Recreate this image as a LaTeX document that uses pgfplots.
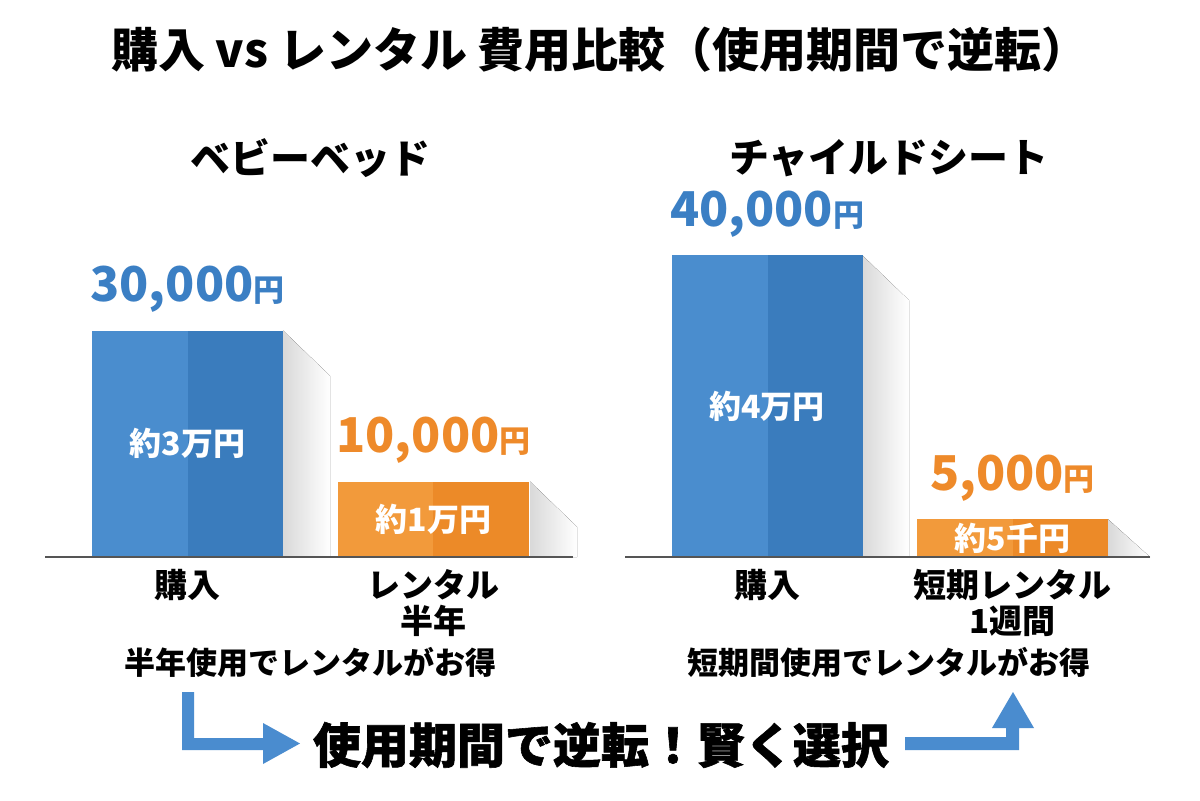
\documentclass[border=0pt]{standalone}
\usepackage{fontspec}
\setmainfont{Noto Sans CJK JP}
\usepackage{pgfplots}
\pgfplotsset{compat=1.18}
\definecolor{blueL}{HTML}{4A8DCE}
\definecolor{blueD}{HTML}{3A7CBD}
\definecolor{orgL}{HTML}{F29A3B}
\definecolor{orgD}{HTML}{EC8A28}
\definecolor{blueT}{HTML}{3B7FC4}
\definecolor{orgT}{HTML}{EE8A2A}
\definecolor{arrowB}{HTML}{4A8CCF}
\definecolor{baseG}{HTML}{555555}
\newcommand{\yen}{{\fontsize{15.5}{15.5}\selectfont 円}}
\begin{document}
\begin{tikzpicture}
\fill[white] (0,0) rectangle (600pt,400pt);
\useasboundingbox (0,0) rectangle (600pt,400pt);
\pgfplotsset{
  cmpaxis/.style={
    anchor=south west, scale only axis, height=151pt,
    ymin=0, ymax=40000, hide axis, clip=false,
  },
  full/.style={ybar, bar shift=0pt, bar width=191, draw=none},
  half/.style={ybar, bar shift=0pt, bar width=95.5, draw=none},
}
\tikzset{
  vallab/.style={anchor=south, yshift=5.5pt, font=\bfseries\fontsize{24}{24}\selectfont},
  inlab/.style={white, font=\bfseries\fontsize{16}{16}\selectfont},
  catlab/.style={anchor=north, yshift=-2.5pt, align=center, font=\bfseries\fontsize{16.5}{18}\selectfont},
  shad/.style={left color=black!15, right color=white},
}
% ---------- left chart: baby bed
\begin{axis}[cmpaxis, at={(22.5pt,121.5pt)}, width=264pt, xmin=45, xmax=573]
\fill[shad] (axis cs:283,30000) -- (axis cs:330,24000) -- (axis cs:330,0) -- (axis cs:283,0) -- cycle;
\fill[shad] (axis cs:530,10000) -- (axis cs:577,4000) -- (axis cs:577,0) -- (axis cs:530,0) -- cycle;
\addplot[full, fill=blueD] coordinates {(187.5,30000)};
\addplot[half, fill=blueL] coordinates {(139.75,30000)};
\addplot[full, fill=orgD] coordinates {(433.5,10000)};
\addplot[half, fill=orgL] coordinates {(385.25,10000)};
\draw[baseG, line width=1pt] (axis cs:45,0) -- (axis cs:573,0);
\node[vallab, blueT] at (axis cs:187.5,30000) {30,000\yen};
\node[vallab, orgT] at (axis cs:433.5,10000) {10,000\yen};
\node[inlab] at (axis cs:187.5,15000) {約3万円};
\node[inlab] at (axis cs:433.5,5000) {約1万円};
\node[catlab] at (axis cs:187.5,0) {購入};
\node[catlab] at (axis cs:433.5,0) {レンタル\\半年};
\end{axis}
% ---------- right chart: child seat
\begin{axis}[cmpaxis, at={(312.5pt,121.5pt)}, width=262.5pt, xmin=625, xmax=1150]
\fill[shad] (axis cs:862,40000) -- (axis cs:909,34000) -- (axis cs:909,0) -- (axis cs:862,0) -- cycle;
\fill[shad] (axis cs:1108,5000) -- (axis cs:1150,0) -- (axis cs:1108,0) -- cycle;
\addplot[full, fill=blueD] coordinates {(767,40000)};
\addplot[half, fill=blueL] coordinates {(719.75,40000)};
\addplot[full, fill=orgD] coordinates {(1012.5,5000)};
\addplot[half, fill=orgL] coordinates {(964.75,5000)};
\draw[baseG, line width=1pt] (axis cs:625,0) -- (axis cs:1150,0);
\node[vallab, blueT] at (axis cs:767,40000) {40,000\yen};
\node[vallab, orgT] at (axis cs:1012.5,5000) {5,000\yen};
\node[inlab] at (axis cs:767,20000) {約4万円};
\node[inlab] at (axis cs:1012.5,2500) {約5千円};
\node[catlab] at (axis cs:767,0) {購入};
\node[catlab] at (axis cs:1012.5,0) {短期レンタル\\1週間};
\end{axis}
% ---------- texts and arrows (pixel coordinates, y down)
\begin{scope}[x=0.5pt, y=-0.5pt, yshift=400pt]
\node[font=\bfseries\fontsize{23.5}{23.5}\selectfont] at (600,50) {購入 vs レンタル 費用比較（使用期間で逆転）};
\node[font=\bfseries\fontsize{20}{20}\selectfont] at (310,158) {ベビーベッド};
\node[font=\bfseries\fontsize{20}{20}\selectfont] at (889,158) {チャイルドシート};
\node[font=\bfseries\fontsize{15.5}{15.5}\selectfont] at (310,662) {半年使用でレンタルがお得};
\node[font=\bfseries\fontsize{15.5}{15.5}\selectfont] at (889,662) {短期間使用でレンタルがお得};
\node[font=\bfseries\fontsize{24}{24}\selectfont] at (601,745) {\addfontfeatures{FakeBold=1.2}使用期間で逆転！賢く選択};
\fill[arrowB] (182,692) -- (194,692) -- (194,738) -- (263,738) -- (263,723) -- (300,743.5) -- (263,764) -- (263,750) -- (182,750) -- cycle;
\fill[arrowB] (905,737) -- (1006,737) -- (1006,728) -- (992,728) -- (1013,692) -- (1034,728) -- (1019,728) -- (1019,750) -- (905,750) -- cycle;
\end{scope}
\end{tikzpicture}
\end{document}
